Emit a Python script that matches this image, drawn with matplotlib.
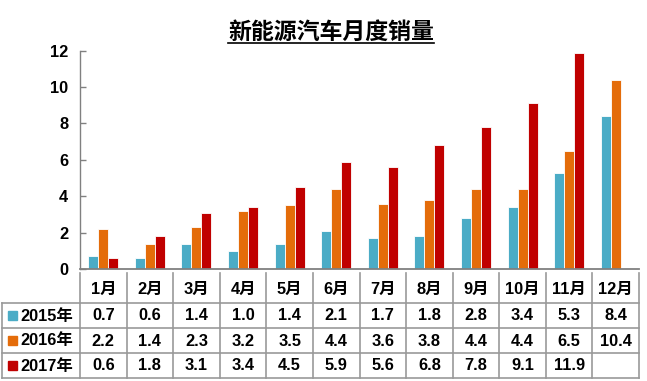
import matplotlib
matplotlib.use("Agg")
import matplotlib.pyplot as plt
from matplotlib.lines import Line2D
from matplotlib.patches import Rectangle

plt.rcParams['font.family'] = ['Liberation Sans', 'Noto Sans CJK SC', 'DejaVu Sans']
plt.rcParams['font.weight'] = 'bold'

title = "新能源汽车月度销量"
months = ["1月", "2月", "3月", "4月", "5月", "6月", "7月", "8月", "9月", "10月", "11月", "12月"]
series_names = ["2015年", "2016年", "2017年"]
sales_2015 = [0.7, 0.6, 1.4, 1.0, 1.4, 2.1, 1.7, 1.8, 2.8, 3.4, 5.3, 8.4]
sales_2016 = [2.2, 1.4, 2.3, 3.2, 3.5, 4.4, 3.6, 3.8, 4.4, 4.4, 6.5, 10.4]
sales_2017 = [0.6, 1.8, 3.1, 3.4, 4.5, 5.9, 5.6, 6.8, 7.8, 9.1, 11.9, None]
colors = ["#4BACC6", "#E46C0A", "#C00000"]
yticks = [0, 2, 4, 6, 8, 10, 12]

W, H = 647, 381
fig = plt.figure(figsize=(W / 100, H / 100), dpi=100)

FS = 11.8

# pixel layout
ax_left, ax_right = 80, 639
ax_top, ax_bot = 50.7, 269
ax = fig.add_axes([ax_left / W, 1 - ax_bot / H, (ax_right - ax_left) / W, (ax_bot - ax_top) / H])

series = [sales_2015, sales_2016, sales_2017]
bw = 0.215
n = len(months)
for k, (vals, c) in enumerate(zip(series, colors)):
    xs = [i + (k - 1) * bw for i in range(n) if vals[i] is not None]
    hs = [v for v in vals if v is not None]
    ax.bar(xs, hs, width=bw, color=c, edgecolor='white', linewidth=0.6, zorder=2)

ax.set_xlim(-0.5, n - 0.5)
ax.set_ylim(0, 12)
ax.set_yticks(yticks)
ax.set_yticklabels([str(t) for t in yticks], fontsize=FS, fontweight='bold')
ax.set_xticks([])
ax.tick_params(axis='y', direction='in', length=4.5, width=1, color='#808080', pad=8.5)
for s in ['top', 'right']:
    ax.spines[s].set_visible(False)
ax.spines['left'].set_color('#808080')
ax.spines['bottom'].set_color('#808080')
ax.spines['left'].set_linewidth(1)
ax.spines['bottom'].set_linewidth(1.3)

# title
t = fig.text(331 / W, 1 - 32 / H, title, ha='center', va='center', fontsize=16.5,
             fontweight='bold', family=['Noto Sans CJK SC'])

# table overlay
ov = fig.add_axes([0, 0, 1, 1])
ov.set_xlim(0, W)
ov.set_ylim(H, 0)
ov.axis('off')
ov.patch.set_alpha(0)

gc = '#999999'
col_w = (ax_right - ax_left) / n
hdr_top, r1, r2, r3, bot = 273, 303, 328, 353, 378
lab_left = 1.5

for i in range(n + 1):
    x = ax_left + i * col_w
    ov.add_line(Line2D([x, x], [hdr_top, bot], color=gc, lw=1.2))
ov.add_line(Line2D([lab_left, lab_left], [r1, bot], color=gc, lw=1.2))
for y in [r1, r2, r3, bot]:
    ov.add_line(Line2D([lab_left, ax_right], [y, y], color=gc, lw=1.2))

for i, m in enumerate(months):
    cx = ax_left + (i + 0.5) * col_w
    ov.text(cx, (hdr_top + r1) / 2 + 1, m, ha='center', va='center', fontsize=FS, fontweight='bold')

row_tops = [r1, r2, r3]
row_h = 25
for k, (name, vals, c) in enumerate(zip(series_names, series, colors)):
    cy = row_tops[k] + row_h / 2
    ov.add_patch(Rectangle((8, cy - 4.5), 9, 9, color=c))
    ov.text(20, cy + 0.5, name, ha='left', va='center', fontsize=FS, fontweight='bold')
    for i, v in enumerate(vals):
        if v is None:
            continue
        cx = ax_left + (i + 0.5) * col_w
        ov.text(cx, cy + 0.5, f"{v:.1f}", ha='center', va='center', fontsize=FS, fontweight='bold')

# underline title
fig.canvas.draw()
bb = t.get_window_extent()
y_ul = bb.y0 + 1
fig.add_artist(Line2D([bb.x0 / W, bb.x1 / W], [y_ul / H, y_ul / H], color='black', lw=1.2,
                      transform=fig.transFigure))

fig.savefig("out.png", dpi=100)
